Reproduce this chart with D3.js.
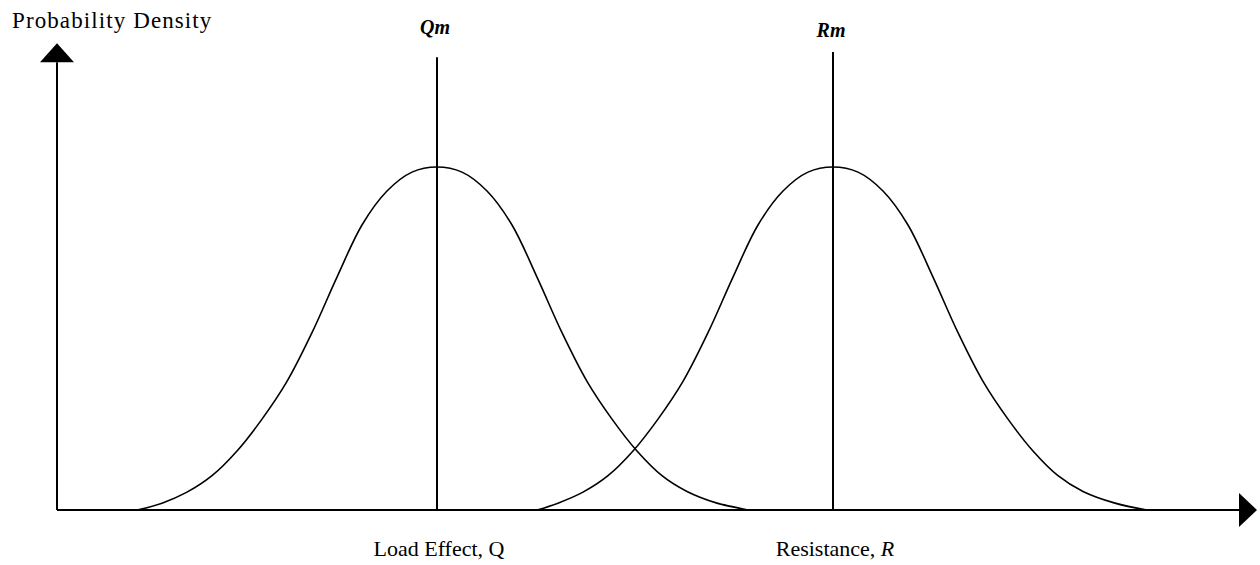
<!DOCTYPE html>
<html>

<head>
    <meta charset="utf-8">
    <style>
        body {
            margin: 0;
            background: white;
        }

        svg {
            display: block;
            font-family: 'Liberation Serif', 'Times New Roman', serif;
        }

        .label {
            font-size: 22px;
            fill: black;
        }

        .mean-label {
            font-size: 20px;
            font-weight: bold;
            font-style: italic;
        }
    </style>
</head>

<body>
    <svg width="1260" height="565"></svg>
</body>

<script src="https://d3js.org/d3.v7.min.js"></script>

<script>

    // curve points (x in axis units, y relative density)
    let loadX = [0.8, 1.05, 1.3, 1.55, 1.8, 2.05, 2.3, 2.55, 2.8, 3.05, 3.3, 3.55, 3.8,
        4.05, 4.3, 4.55, 4.8, 5.05, 5.3, 5.55, 5.8, 6.05, 6.3, 6.6, 6.91]
    let loadY = [0, 0.02, 0.052, 0.10, 0.172, 0.265, 0.375, 0.517, 0.679, 0.831, 0.93, 0.985, 1.0,
        0.985, 0.93, 0.831, 0.679, 0.517, 0.375, 0.265, 0.172, 0.10, 0.054, 0.02, 0]

    let resistX = [4.8, 5.01, 5.26, 5.51, 5.76, 6.01, 6.26, 6.51, 6.76, 7.01, 7.26, 7.51, 7.76,
        8.01, 8.26, 8.51, 8.76, 9.01, 9.26, 9.51, 9.76, 10.01, 10.26, 10.58, 10.9]
    let resistY = [0, 0.02, 0.052, 0.10, 0.172, 0.265, 0.375, 0.517, 0.679, 0.831, 0.93, 0.985, 1.0,
        0.985, 0.93, 0.831, 0.679, 0.517, 0.375, 0.265, 0.172, 0.10, 0.054, 0.02, 0]

    let means = [3.8, 7.76]
    let meanTops = [1.32, 1.335]
    let meanNames = ["Q", "R"]

    let xMax = 12
    let yMax = 1.361

    let svg = d3.select("svg")

    let x = d3.scaleLinear().domain([0, xMax]).range([57, 1257])
    let y = d3.scaleLinear().domain([0, 1]).range([510, 167])

    // axes
    svg.append("line")
        .attr("x1", x(0)).attr("x2", x(xMax) - 18)
        .attr("y1", y(0)).attr("y2", y(0))
        .style("stroke", "black").style("stroke-width", 2)

    svg.append("line")
        .attr("x1", x(0)).attr("x2", x(0))
        .attr("y1", y(0)).attr("y2", y(yMax) + 19)
        .style("stroke", "black").style("stroke-width", 2)

    // arrow heads
    svg.append("path")
        .attr("d", `M${x(xMax)},${y(0)} L${x(xMax) - 18},${y(0) - 17} L${x(xMax) - 18},${y(0) + 17} Z`)
        .style("fill", "black")

    svg.append("path")
        .attr("d", `M${x(0)},${y(yMax)} L${x(0) - 17},${y(yMax) + 19} L${x(0) + 17},${y(yMax) + 19} Z`)
        .style("fill", "black")

    // mean lines
    svg.append("g")
        .selectAll("line")
        .data(means)
        .join("line")
        .attr("x1", d => x(d)).attr("x2", d => x(d))
        .attr("y1", y(0))
        .attr("y2", (d, i) => y(meanTops[i]))
        .style("stroke", "black").style("stroke-width", 2)

    // the two curves
    let line = d3.line()
        .x(d => x(d[0]))
        .y(d => y(d[1]))
        .curve(d3.curveCatmullRom.alpha(0.5))

    let curves = [
        d3.zip(loadX, loadY),
        d3.zip(resistX, resistY)
    ]

    svg.append("g")
        .selectAll("path")
        .data(curves)
        .join("path")
        .attr("d", line)
        .style("fill", "none")
        .style("stroke", "black")
        .style("stroke-width", 1.6)

    // labels
    svg.append("text")
        .attr("class", "label")
        .attr("x", 12)
        .attr("y", 28)
        .style("font-size", "23px")
        .style("letter-spacing", "1.1px")
        .text("Probability Density")

    let meanLabels = svg.append("g")
        .selectAll("text")
        .data(means)
        .join("text")
        .attr("class", "label mean-label")
        .attr("x", d => x(d) - 2)
        .attr("y", (d, i) => i == 0 ? 34 : 37)
        .attr("text-anchor", "middle")
    meanLabels.append("tspan").text((d, i) => meanNames[i])
    meanLabels.append("tspan").text("m")

    svg.append("text")
        .attr("class", "label")
        .attr("x", x(means[0]) + 2)
        .attr("y", 556)
        .attr("text-anchor", "middle")
        .text("Load Effect, Q")

    let resText = svg.append("text")
        .attr("class", "label")
        .attr("x", x(means[1]) + 2)
        .attr("y", 556)
        .attr("text-anchor", "middle")
    resText.append("tspan").text("Resistance, ")
    resText.append("tspan").style("font-style", "italic").text("R")

</script>
</html>
